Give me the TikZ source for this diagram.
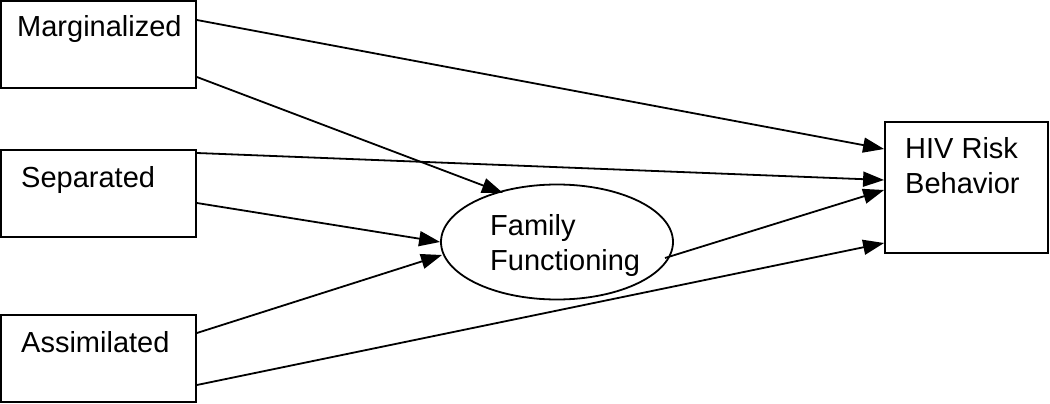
\documentclass[tikz,border=0pt]{standalone}
\usepackage{fontspec}
\setmainfont{Liberation Sans}
\usetikzlibrary{arrows.meta,shapes.geometric,calc}
\begin{document}
\begin{tikzpicture}[x=1pt,y=-1pt,
  box/.style={draw,line width=1.8pt,rectangle,inner sep=0pt},
  lbl/.style={anchor=base west,inner sep=0pt,font=\fontsize{29}{35}\selectfont},
  conn/.style={line width=1.8pt,-{Triangle[length=21pt,width=15pt]}}]
\useasboundingbox (0,0) rectangle (1050,404);
\node[box,minimum width=195pt,minimum height=87pt] (mar) at (98.5,44.5) {};
\node[box,minimum width=195pt,minimum height=87pt] (sep) at (98.5,193.5) {};
\node[box,minimum width=195pt,minimum height=87pt] (ass) at (98.5,358.5) {};
\node[box,minimum width=163pt,minimum height=131pt] (hiv) at (966.5,187.5) {};
\node[draw,line width=1.8pt,ellipse,minimum width=232pt,minimum height=115pt,inner sep=0pt] (ff) at (557,242) {};
\node[lbl] (tmar) at (17,37) {Marginalized};
\node[lbl] (tsep) at (21,187) {Separated};
\node[lbl] (tass) at (21,352) {Assimilated};
\node[lbl] (thiv1) at (905,158) {HIV Risk};
\node[lbl] (thiv2) at (905,193) {Behavior};
\node[lbl] (tff1) at (490,235) {Family};
\node[lbl] (tff2) at (490,270) {Functioning};
\coordinate (m1) at (mar.east |- 0,20);
\coordinate (m2) at (mar.east |- 0,77);
\coordinate (s1) at (sep.east |- 0,153);
\coordinate (s2) at (sep.east |- 0,203);
\coordinate (a1) at (ass.east |- 0,333);
\coordinate (a2) at (ass.east |- 0,385);
\coordinate (h1) at (hiv.west |- 0,149);
\coordinate (h2) at (hiv.west |- 0,180);
\coordinate (h3) at (hiv.west |- 0,190);
\coordinate (h4) at (hiv.west |- 0,243);
\coordinate (f1) at (503,193);
\coordinate (f2) at (ff.west |- 0,242);
\coordinate (f3) at (442,255);
\coordinate (f4) at (665,258);
\draw[conn] (m1) -- (h1);
\draw[conn] (m2) -- (f1);
\draw[conn] (s1) -- (h2);
\draw[conn] (s2) -- (f2);
\draw[conn] (a1) -- (f3);
\draw[conn] (a2) -- (h4);
\draw[conn] (f4) -- (h3);
\end{tikzpicture}
\end{document}
